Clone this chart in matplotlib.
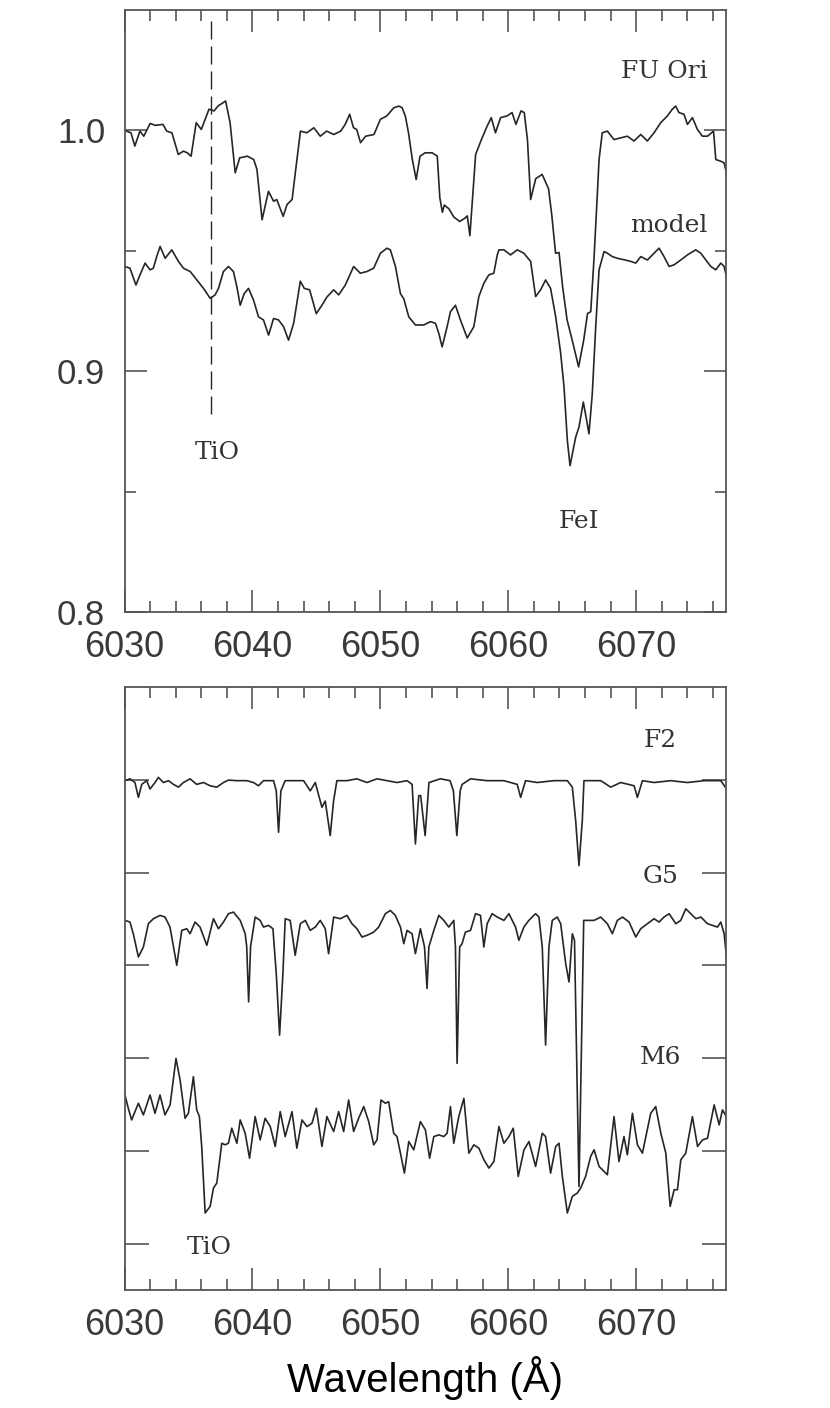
import numpy as np
import matplotlib
matplotlib.use("Agg")
import matplotlib.pyplot as plt
from matplotlib.ticker import MultipleLocator, FixedLocator, NullFormatter

# ---- top panel: FU Ori spectrum and accretion disk model ----
fu_wave = [6030.0, 6030.5, 6030.8, 6031.2, 6031.5, 6032.0, 6032.4, 6033.0, 6033.3, 6033.7,
           6034.2, 6034.6, 6034.9, 6035.2, 6035.6, 6036.0, 6036.6, 6037.0, 6037.3, 6037.9,
           6038.25, 6038.65, 6039.0, 6039.6, 6040.1, 6040.35, 6040.75, 6041.25, 6041.65, 6041.9,
           6042.4, 6042.7, 6043.1, 6043.35, 6043.75, 6044.25, 6044.8, 6045.3, 6045.8, 6046.35,
           6046.9, 6047.25, 6047.6, 6047.9, 6048.15, 6048.45, 6048.85, 6049.5, 6050.0, 6050.5,
           6051.05, 6051.45, 6051.7, 6051.95, 6052.2, 6052.5, 6052.8, 6053.1, 6053.5, 6054.05,
           6054.45, 6054.65, 6054.85, 6055.0, 6055.35, 6055.75, 6056.2, 6056.6, 6056.8, 6057.0,
           6057.45, 6057.85, 6058.35, 6058.67, 6059.0, 6059.4, 6059.9, 6060.3, 6060.6, 6061.0,
           6061.25, 6061.5, 6061.75, 6062.15, 6062.65, 6063.15, 6063.4, 6063.7, 6063.97, 6064.25,
           6064.6, 6065.0, 6065.5, 6065.9, 6066.2, 6066.45, 6066.7, 6066.97, 6067.1, 6067.35,
           6067.75, 6068.27, 6068.79, 6069.31, 6069.83, 6070.36, 6070.88, 6071.4, 6071.92, 6072.44,
           6072.83, 6073.09, 6073.35, 6073.74, 6074.01, 6074.4, 6074.79, 6075.18, 6075.58, 6076.05,
           6076.23, 6076.62, 6076.88, 6077.06]
fu_flux = [1.0, 0.999, 0.9935, 0.9997, 0.9976, 1.0029, 1.0021, 1.0025, 0.9997, 0.999,
           0.990, 0.9914, 0.9907, 0.9893, 1.0032, 1.0004, 1.0088, 1.0081, 1.0101, 1.0122,
           1.0032, 0.9824, 0.9886, 0.9893, 0.9879, 0.9838, 0.9629, 0.9747, 0.9706, 0.9713,
           0.9643, 0.9692, 0.9713, 0.9824, 0.9997, 0.999, 1.0011, 0.9976, 0.9997, 0.9983,
           0.9997, 1.0025, 1.0067, 1.0011, 1.0004, 0.9949, 0.9976, 0.9983, 1.0046, 1.006,
           1.0094, 1.0101, 1.0094, 1.006, 0.999, 0.9879, 0.9796, 0.9893, 0.9907, 0.9907,
           0.9893, 0.972, 0.966, 0.969, 0.9675, 0.964, 0.9622, 0.9635, 0.9645, 0.9563,
           0.990, 0.9955, 1.0018, 1.0053, 0.999, 1.0053, 1.006, 1.0074, 1.0025, 1.0081,
           1.0074, 0.9962, 0.9713, 0.980, 0.9817, 0.9758, 0.965, 0.949, 0.9493, 0.9351,
           0.9213, 0.9129, 0.9018, 0.9129, 0.924, 0.9247, 0.9463, 0.974, 0.9879, 0.999,
           0.9997, 0.9962, 0.9969, 0.9976, 0.9956, 0.9983, 0.9956, 0.999, 1.0032, 1.006,
           1.0088, 1.0101, 1.0074, 1.0067, 1.0025, 1.0053, 1.0004, 0.9976, 0.9976, 0.9997,
           0.9879, 0.9872, 0.9865, 0.9824]

model_wave = [6030.03, 6030.42, 6030.89, 6031.15, 6031.6, 6031.99, 6032.25, 6032.51, 6032.78, 6033.17,
              6033.69, 6034.21, 6034.6, 6035.13, 6035.65, 6036.17, 6036.69, 6037.08, 6037.34, 6037.73,
              6038.12, 6038.51, 6038.78, 6039.04, 6039.35, 6039.69, 6040.08, 6040.47, 6040.86, 6041.26,
              6041.65, 6042.04, 6042.43, 6042.82, 6043.22, 6043.74, 6044.05, 6044.47, 6044.99, 6045.43,
              6045.82, 6046.35, 6046.74, 6047.26, 6047.91, 6048.43, 6048.95, 6049.48, 6050.0, 6050.52,
              6050.78, 6051.18, 6051.57, 6051.83, 6052.22, 6052.74, 6053.39, 6053.92, 6054.31, 6054.57,
              6054.83, 6055.22, 6055.48, 6055.87, 6056.26, 6056.79, 6057.31, 6057.7, 6058.09, 6058.48,
              6058.87, 6059.14, 6059.27, 6059.66, 6060.18, 6060.7, 6061.22, 6061.75, 6062.14, 6062.53,
              6062.92, 6063.31, 6063.71, 6064.1, 6064.36, 6064.62, 6064.83, 6065.27, 6065.53, 6065.87,
              6066.13, 6066.31, 6066.57, 6066.84, 6067.1, 6067.49, 6067.75, 6068.14, 6068.53, 6069.05,
              6069.58, 6069.97, 6070.36, 6070.88, 6071.4, 6071.79, 6072.18, 6072.58, 6072.97, 6073.49,
              6074.01, 6074.66, 6075.06, 6075.45, 6075.84, 6076.23, 6076.62, 6076.88, 6077.06]
model_flux = [0.9435, 0.9428, 0.9358, 0.9393, 0.9449, 0.9421, 0.9428, 0.9476, 0.9518, 0.9469,
              0.9504, 0.9456, 0.9428, 0.9414, 0.9379, 0.9344, 0.9303, 0.9317, 0.9344, 0.9414,
              0.9435, 0.9414, 0.9351, 0.9274, 0.9322, 0.9344, 0.9296, 0.9226, 0.9213, 0.915,
              0.9219, 0.9213, 0.9185, 0.9129, 0.9199, 0.9374, 0.9344, 0.9338, 0.9239, 0.9274,
              0.9308, 0.9338, 0.9317, 0.9358, 0.9435, 0.9407, 0.9414, 0.9428, 0.949, 0.9511,
              0.9504, 0.9435, 0.9322, 0.9301, 0.9226, 0.9192, 0.9192, 0.9206, 0.9199, 0.9157,
              0.9101, 0.9185, 0.9247, 0.9274, 0.9213, 0.9138, 0.9185, 0.931, 0.9365, 0.94,
              0.9407, 0.9483, 0.9504, 0.9504, 0.9483, 0.9504, 0.949, 0.9456, 0.931, 0.9338,
              0.9379, 0.9344, 0.9226, 0.9074, 0.8935, 0.8713, 0.8608, 0.8726, 0.8768, 0.8872,
              0.8796, 0.874, 0.8906, 0.9185, 0.9421, 0.9497, 0.949, 0.9476, 0.9469, 0.9463,
              0.9456, 0.9449, 0.9476, 0.9462, 0.949, 0.9511, 0.9476, 0.9435, 0.9442, 0.9462,
              0.9483, 0.9504, 0.949, 0.9462, 0.9435, 0.9421, 0.9449, 0.9435, 0.9393]

top_labels = ["FU Ori", "model"]
tio_wave = 6036.74

# ---- bottom panel: standard stars (offset spectra) ----
f2_wave = [6030.03, 6030.42, 6030.81, 6031.08, 6031.34, 6031.73, 6031.99, 6032.38, 6032.64, 6033.04,
           6033.43, 6033.82, 6034.21, 6034.6, 6035.12, 6035.64, 6036.17, 6036.69, 6037.21, 6037.73,
           6038.12, 6038.77, 6039.56, 6040.08, 6040.47, 6040.86, 6041.65, 6041.86, 6042.04, 6042.22,
           6042.56, 6043.21, 6044.0, 6044.52, 6044.91, 6045.43, 6045.69, 6046.08, 6046.34, 6046.6,
           6047.39, 6048.17, 6048.95, 6049.74, 6050.52, 6051.3, 6052.09, 6052.48, 6052.74, 6053.0,
           6053.15, 6053.5, 6053.8, 6054.7, 6055.45, 6055.71, 6055.98, 6056.24, 6056.39, 6057.05,
           6058.35, 6059.66, 6060.7, 6060.97, 6061.35, 6062.27, 6063.57, 6064.62, 6065.01, 6065.27,
           6065.53, 6065.79, 6065.92, 6067.23, 6068.01, 6068.79, 6069.84, 6070.1, 6070.49, 6071.4,
           6072.71, 6074.01, 6075.32, 6076.62, 6077.07]
f2_flux = [0.499, 0.501, 0.497, 0.481, 0.495, 0.499, 0.490, 0.497, 0.5025, 0.497,
           0.499, 0.495, 0.492, 0.497, 0.501, 0.495, 0.497, 0.4935, 0.492, 0.497,
           0.4996, 0.499, 0.499, 0.497, 0.4935, 0.499, 0.499, 0.488, 0.4434, 0.488,
           0.499, 0.499, 0.499, 0.488, 0.497, 0.4703, 0.477, 0.4398, 0.477, 0.499,
           0.499, 0.501, 0.497, 0.501, 0.499, 0.497, 0.499, 0.495, 0.4308, 0.4828,
           0.483, 0.4398, 0.497, 0.501, 0.499, 0.488, 0.4398, 0.488, 0.495, 0.501,
           0.499, 0.499, 0.495, 0.481, 0.499, 0.497, 0.499, 0.499, 0.492, 0.456,
           0.4075, 0.456, 0.499, 0.499, 0.492, 0.497, 0.4935, 0.481, 0.499, 0.497,
           0.499, 0.497, 0.499, 0.499, 0.490]

g5_wave = [6030.03, 6030.42, 6030.68, 6031.08, 6031.47, 6031.86, 6032.25, 6032.77, 6033.16, 6033.55,
           6034.08, 6034.47, 6034.86, 6035.12, 6035.51, 6035.9, 6036.43, 6036.95, 6037.34, 6037.73,
           6038.12, 6038.51, 6039.04, 6039.43, 6039.55, 6039.7, 6039.85, 6040.21, 6040.6, 6040.86,
           6041.26, 6041.6, 6041.86, 6042.12, 6042.38, 6042.56, 6042.95, 6043.34, 6043.74, 6044.13,
           6044.52, 6044.91, 6045.3, 6045.69, 6045.95, 6046.35, 6046.87, 6047.39, 6047.78, 6048.17,
           6048.56, 6048.96, 6049.48, 6049.87, 6050.39, 6050.78, 6051.17, 6051.57, 6051.83, 6052.09,
           6052.48, 6052.74, 6053.13, 6053.45, 6053.65, 6053.79, 6054.18, 6054.57, 6054.96, 6055.35,
           6055.74, 6055.87, 6056.0, 6056.2, 6056.39, 6056.65, 6057.05, 6057.44, 6057.83, 6058.09,
           6058.35, 6058.74, 6059.14, 6059.66, 6060.05, 6060.57, 6060.83, 6061.22, 6061.61, 6062.14,
           6062.4, 6062.66, 6062.92, 6063.18, 6063.44, 6063.83, 6064.1, 6064.49, 6064.75, 6065.01,
           6065.18, 6065.53, 6065.9, 6066.18, 6066.71, 6067.23, 6067.75, 6068.14, 6068.53, 6068.93,
           6069.45, 6069.97, 6070.36, 6070.88, 6071.4, 6071.79, 6072.18, 6072.58, 6073.1, 6073.49,
           6073.88, 6074.27, 6074.67, 6075.06, 6075.58, 6075.97, 6076.36, 6076.62, 6076.88, 6077.06]
g5_flux = [0.3484, 0.3466, 0.334, 0.309, 0.3197, 0.3448, 0.3502, 0.3538, 0.352, 0.3412,
           0.300, 0.3376, 0.3394, 0.334, 0.3466, 0.3412, 0.3215, 0.3502, 0.3394, 0.3466,
           0.3556, 0.3573, 0.3484, 0.334, 0.320, 0.2606, 0.320, 0.352, 0.3484, 0.3412,
           0.343, 0.3394, 0.291, 0.2247, 0.291, 0.3502, 0.3484, 0.3108, 0.3448, 0.3484,
           0.3376, 0.3412, 0.3484, 0.3394, 0.3125, 0.352, 0.3502, 0.3538, 0.3448, 0.3394,
           0.3305, 0.3323, 0.3358, 0.3412, 0.3556, 0.3591, 0.3538, 0.3412, 0.3233, 0.3376,
           0.334, 0.3125, 0.3394, 0.320, 0.275, 0.3197, 0.3376, 0.3538, 0.3484, 0.3412,
           0.3484, 0.3197, 0.1943, 0.3197, 0.3233, 0.3358, 0.3376, 0.3556, 0.3538, 0.3197,
           0.3448, 0.3556, 0.352, 0.3484, 0.3556, 0.3412, 0.3269, 0.3412, 0.3484, 0.3556,
           0.352, 0.3197, 0.214, 0.3197, 0.3484, 0.352, 0.3448, 0.3018, 0.282, 0.334,
           0.3269, 0.0616, 0.3484, 0.3484, 0.3484, 0.352, 0.3448, 0.334, 0.3484, 0.352,
           0.3466, 0.3305, 0.3394, 0.3448, 0.3502, 0.3466, 0.352, 0.3556, 0.3448, 0.3484,
           0.3609, 0.3556, 0.3502, 0.352, 0.3448, 0.343, 0.3412, 0.3466, 0.334, 0.309]

m6_wave = [6030.03, 6030.29, 6030.55, 6031.08, 6031.47, 6031.99, 6032.38, 6032.77, 6033.16, 6033.56,
           6034.02, 6034.34, 6034.73, 6034.99, 6035.38, 6035.64, 6035.85, 6036.03, 6036.3, 6036.69,
           6036.95, 6037.21, 6037.6, 6037.86, 6038.12, 6038.38, 6038.78, 6039.04, 6039.43, 6039.77,
           6040.21, 6040.6, 6040.99, 6041.39, 6041.78, 6042.17, 6042.56, 6043.09, 6043.47, 6043.87,
           6044.26, 6044.65, 6044.99, 6045.43, 6045.82, 6046.35, 6046.74, 6047.13, 6047.52, 6047.91,
           6048.3, 6048.7, 6049.09, 6049.48, 6049.74, 6050.05, 6050.39, 6050.65, 6051.04, 6051.3,
           6051.57, 6051.88, 6052.22, 6052.61, 6053.13, 6053.52, 6053.85, 6054.18, 6054.57, 6054.96,
           6055.22, 6055.48, 6055.74, 6056.13, 6056.53, 6056.92, 6057.31, 6057.7, 6058.1, 6058.49,
           6058.88, 6059.27, 6059.66, 6060.05, 6060.39, 6060.78, 6061.23, 6061.62, 6062.14, 6062.66,
           6062.92, 6063.31, 6063.71, 6063.97, 6064.23, 6064.62, 6065.01, 6065.4, 6065.66, 6066.05,
           6066.44, 6066.71, 6067.1, 6067.36, 6067.75, 6068.27, 6068.66, 6069.05, 6069.31, 6069.71,
           6070.1, 6070.49, 6071.14, 6071.53, 6071.93, 6072.32, 6072.66, 6072.97, 6073.23, 6073.49,
           6073.88, 6074.4, 6074.8, 6075.19, 6075.58, 6076.1, 6076.49, 6076.75, 6077.06]
m6_flux = [0.1602, 0.1459, 0.1333, 0.1513, 0.1387, 0.1602, 0.1405, 0.1602, 0.1387, 0.1495,
           0.1996, 0.1763, 0.1351, 0.1405, 0.1799, 0.1441, 0.1369, 0.1047, 0.033, 0.0401,
           0.0599, 0.0652, 0.1082, 0.1065, 0.1082, 0.1244, 0.1082, 0.1333, 0.119, 0.0921,
           0.1369, 0.1118, 0.1351, 0.1262, 0.1047, 0.1423, 0.1154, 0.1423, 0.1029, 0.1333,
           0.1262, 0.1297, 0.1459, 0.1047, 0.1369, 0.1208, 0.1423, 0.1208, 0.1548, 0.1208,
           0.1351, 0.1477, 0.1315, 0.1065, 0.1118, 0.1548, 0.1513, 0.153, 0.119, 0.1154,
           0.0975, 0.076, 0.110, 0.1011, 0.1315, 0.1226, 0.0921, 0.1154, 0.1172, 0.1154,
           0.119, 0.1477, 0.1082, 0.1369, 0.1566, 0.0975, 0.1065, 0.1029, 0.0903, 0.0814,
           0.0885, 0.1262, 0.1082, 0.1154, 0.1244, 0.0724, 0.1011, 0.110, 0.0832, 0.119,
           0.1154, 0.076, 0.1047, 0.1082, 0.0724, 0.033, 0.0509, 0.0545, 0.0599, 0.0724,
           0.0939, 0.1011, 0.0832, 0.0796, 0.0742, 0.1369, 0.0885, 0.1154, 0.0957, 0.1405,
           0.1065, 0.0975, 0.1405, 0.1477, 0.119, 0.0975, 0.0401, 0.0581, 0.0581, 0.0903,
           0.0975, 0.1369, 0.1047, 0.1118, 0.1136, 0.1495, 0.128, 0.1441, 0.1369]

bottom_labels = ["F2", "G5", "M6"]
x_ticks = [6030, 6040, 6050, 6060, 6070]

line_col = "#262626"
frame_col = "#555555"
serif = "DejaVu Serif"
plt.rcParams["font.family"] = ["Liberation Sans", "DejaVu Sans"]


def style_axes(ax):
    ax.set_xlim(6030, 6077)
    ax.xaxis.set_major_locator(FixedLocator(x_ticks))
    ax.xaxis.set_minor_locator(MultipleLocator(2))
    ax.tick_params(which="both", direction="in", top=True, right=True,
                   color=frame_col, width=1.2, labelcolor="#3a3a3a")
    ax.tick_params(which="major", length=16)
    ax.tick_params(which="minor", length=8)
    ax.tick_params(axis="x", pad=13, labelsize=26)
    ax.tick_params(axis="y", pad=14, labelsize=25)
    for s in ax.spines.values():
        s.set_color(frame_col)
        s.set_linewidth(1.3)


fig = plt.figure(figsize=(8.3, 14.08), dpi=100)

ax1 = fig.add_axes([0.1501, 0.5653, 0.7242, 0.4276])
ax1.plot(fu_wave, fu_flux, color=line_col, lw=1.2)
ax1.plot(model_wave, model_flux, color=line_col, lw=1.2)
ax1.plot([tio_wave, tio_wave], [1.0455, 0.882], color=line_col, lw=1.0, dashes=(13, 5))
style_axes(ax1)
ax1.set_ylim(0.8, 1.05)
ax1.yaxis.set_major_locator(FixedLocator([0.8, 0.9, 1.0]))
ax1.yaxis.set_minor_locator(FixedLocator([0.85, 0.95]))
ax1.set_yticklabels(["0.8", "0.9", "1.0"])
ax1.text(6075.6, 1.0217, top_labels[0], ha="right", va="baseline", family=serif, fontsize=18, color="#333333")
ax1.text(6075.6, 0.9579, top_labels[1], ha="right", va="baseline", family=serif, fontsize=18, color="#333333")
ax1.text(6037.25, 0.8637, "TiO", ha="center", va="baseline", family=serif, fontsize=18, color="#333333")
ax1.text(6065.5, 0.835, "FeI", ha="center", va="baseline", family=serif, fontsize=18, color="#333333")

ax2 = fig.add_axes([0.1501, 0.0838, 0.7242, 0.4283])
ax2.plot(f2_wave, f2_flux, color=line_col, lw=1.2)
ax2.plot(g5_wave, g5_flux, color=line_col, lw=1.2)
ax2.plot(m6_wave, m6_flux, color=line_col, lw=1.2)
style_axes(ax2)
ax2.set_ylim(-0.05, 0.6)
ax2.yaxis.set_major_locator(FixedLocator([0.0, 0.1, 0.2, 0.3, 0.4, 0.5]))
ax2.yaxis.set_major_formatter(NullFormatter())
ax2.tick_params(axis="y", which="major", length=17)
for lab, yb in zip(bottom_labels, [0.5355, 0.389, 0.1935]):
    ax2.text(6071.9, yb, lab, ha="center", va="baseline", family=serif, fontsize=18, color="#333333")
ax2.text(6036.6, -0.0108, "TiO", ha="center", va="baseline", family=serif, fontsize=18, color="#333333")

fig.text(0.512, 0.0115, "Wavelength (Å)", ha="center", va="baseline", fontsize=29, color="black")

fig.savefig("out.png", dpi=100)
